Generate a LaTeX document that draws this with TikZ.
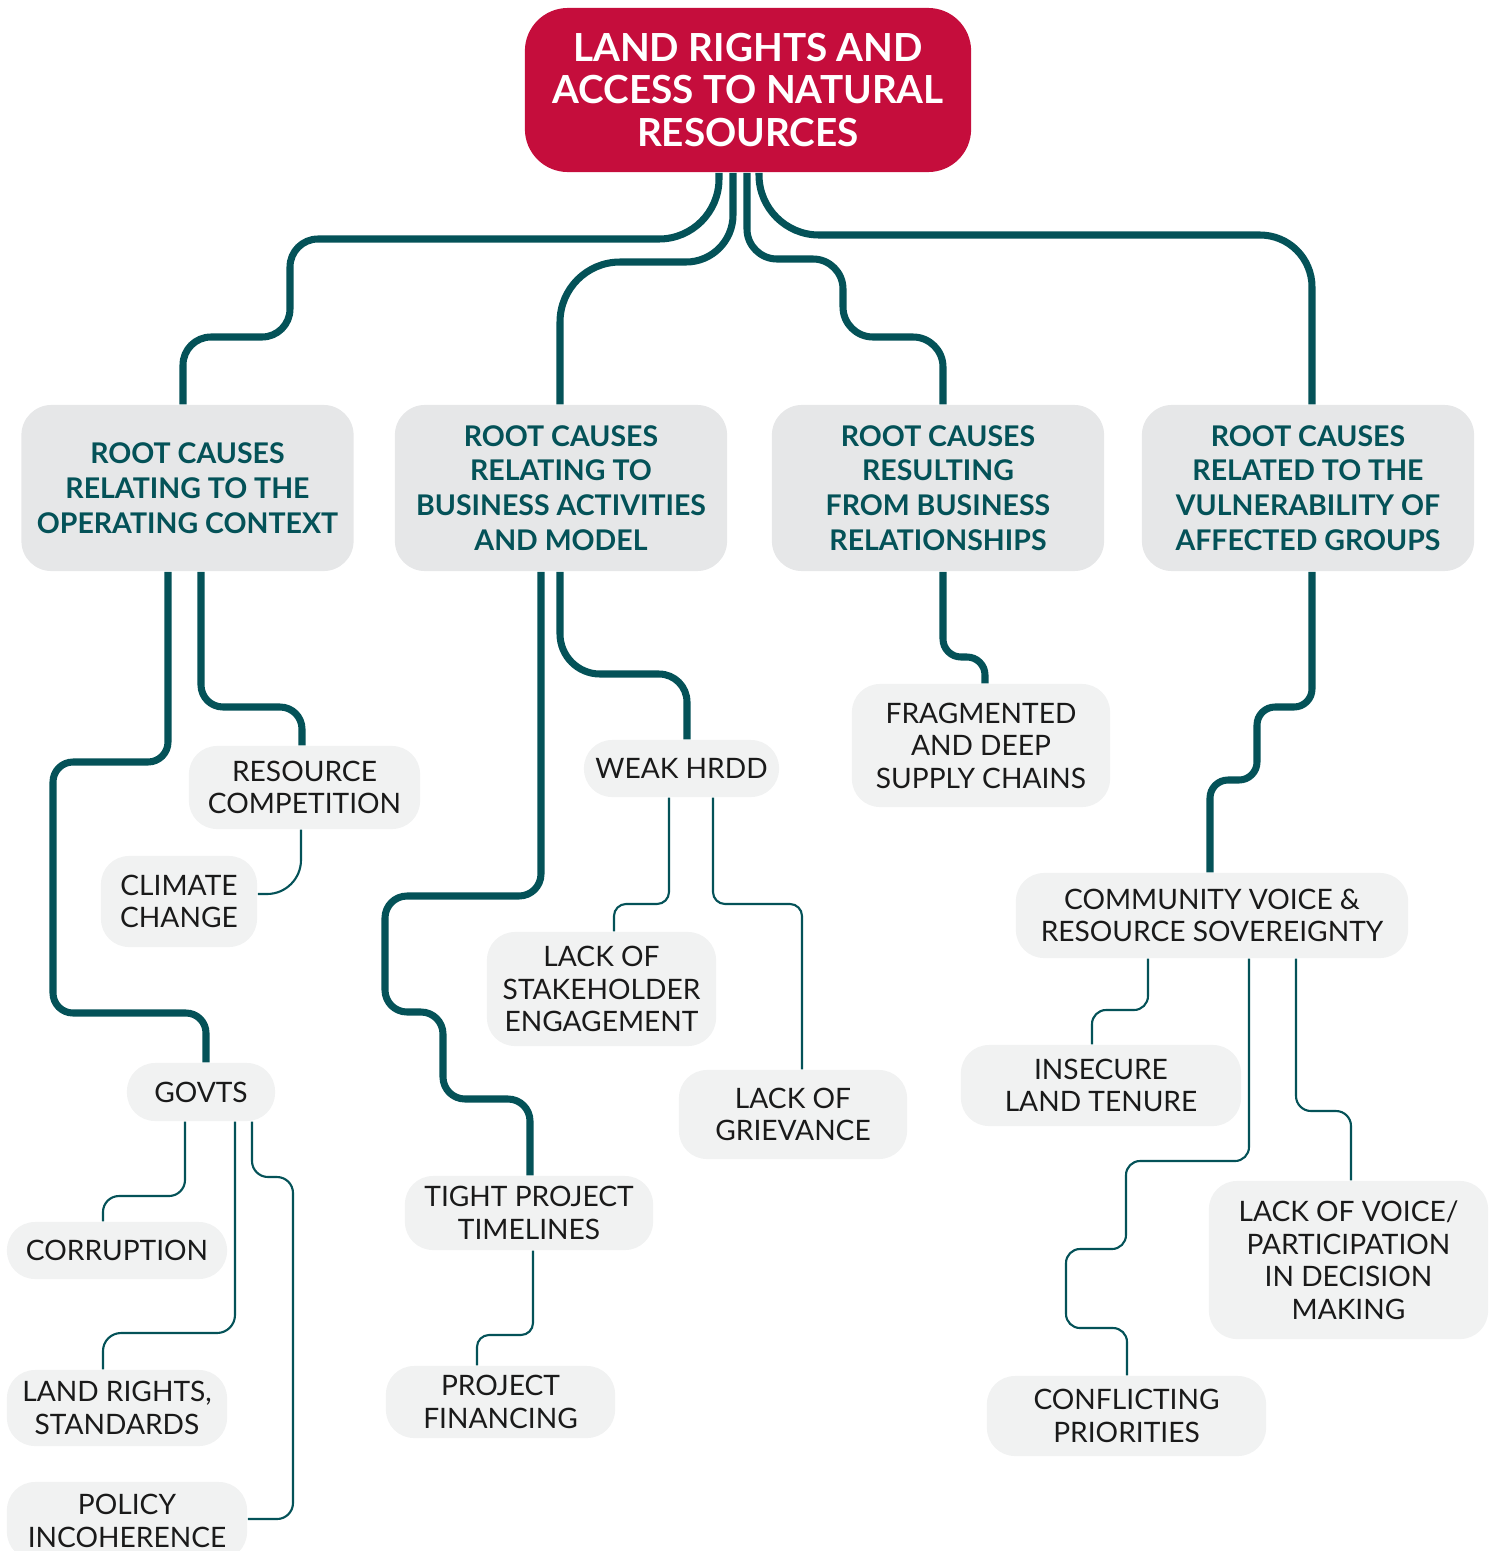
\documentclass[tikz,border=0pt]{standalone}
\usepackage{fontspec}
\setmainfont{Lato}

\definecolor{landred}{RGB}{197,13,60}
\definecolor{deepteal}{RGB}{4,82,88}
\definecolor{causegray}{RGB}{230,231,232}
\definecolor{leafgray}{RGB}{241,242,242}
\definecolor{leaftext}{RGB}{26,26,26}

\begin{document}
\begin{tikzpicture}[x=0.01cm,y=-0.01cm]
    \tikzstyle{rootnode}=[fill=landred,text=white,rounded corners=4.3mm,align=center,inner sep=0pt,minimum width=4.46cm,minimum height=1.64cm,font=\fontsize{11}{12.2}\selectfont\bfseries]
    \tikzstyle{cause}=[fill=causegray,text=deepteal,rounded corners=3mm,align=center,inner sep=0pt,minimum width=3.32cm,minimum height=1.66cm,font=\fontsize{8.1}{9.9}\selectfont\bfseries]
    \tikzstyle{leaf}=[fill=leafgray,text=leaftext,rounded corners=2.8mm,align=center,inner sep=0pt,font=\fontsize{8}{9.25}\selectfont]
    \tikzstyle{trunk}=[draw=deepteal,line width=2pt]
    \tikzstyle{twig}=[draw=deepteal,line width=0.6pt]

    \useasboundingbox (0,0) rectangle (1497,1551);

    \node[rootnode] (root) at (748,90) {LAND RIGHTS AND\\ACCESS TO NATURAL\\RESOURCES};

    \foreach \name/\x/\txt in {context/187.5/{ROOT CAUSES\\RELATING TO THE\\OPERATING CONTEXT},
                               business/561/{ROOT CAUSES\\RELATING TO\\BUSINESS ACTIVITIES\\AND MODEL},
                               relations/938/{ROOT CAUSES\\RESULTING\\FROM BUSINESS\\RELATIONSHIPS},
                               vulnerable/1308/{ROOT CAUSES\\RELATED TO THE\\VULNERABILITY OF\\AFFECTED GROUPS}}
        \node[cause] (\name) at (\x,488) {\txt};

    \foreach \name/\x/\y/\w/\h/\txt in {competition/304.5/787.5/23.1/8.3/{RESOURCE\\COMPETITION},
                                        climate/179/901.5/15.6/9.1/{CLIMATE\\CHANGE},
                                        govts/201/1092/14.8/5.8/{GOVTS},
                                        corruption/117/1250.5/22/5.7/{CORRUPTION},
                                        landrights/117/1408/22/7.6/{LAND RIGHTS,\\STANDARDS},
                                        policy/127/1521/24/7.8/{POLICY\\INCOHERENCE},
                                        weakhrdd/681.5/768.5/19.5/5.7/{WEAK HRDD},
                                        stakeholder/601.5/989/22.9/11.4/{LACK OF\\STAKEHOLDER\\ENGAGEMENT},
                                        grievance/793/1114.5/22.8/8.9/{LACK OF\\GRIEVANCE},
                                        timelines/529/1213/24.8/7.4/{TIGHT PROJECT\\TIMELINES},
                                        financing/500.5/1402/22.9/7.2/{PROJECT\\FINANCING},
                                        supply/981/745.5/25.8/12.3/{FRAGMENTED\\AND DEEP\\SUPPLY CHAINS},
                                        community/1212/915.5/39.2/8.5/{COMMUNITY VOICE \&\\RESOURCE SOVEREIGNTY},
                                        tenure/1101/1085.5/28/8.1/{INSECURE\\LAND TENURE},
                                        voice/1348.5/1260/27.9/15.8/{LACK OF VOICE/\\PARTICIPATION\\IN DECISION\\MAKING},
                                        priorities/1126.5/1416/27.9/8/{CONFLICTING\\PRIORITIES}}
        \node[leaf,minimum width=\w mm,minimum height=\h mm] (\name) at (\x,\y) {\txt};

    % root to the four groups of causes
    \draw[trunk] (root.south -| 719,0) [rounded corners=6mm] -- (719,239) [rounded corners=2.8mm] -- (290,239) -- (290,337) -- (183,337) -- (context.north -| 183,0);
    \draw[trunk] (root.south -| 733,0) [rounded corners=4.7mm] -- (733,262) [rounded corners=6mm] -- (560,262) -- (business.north -| 560,0);
    \draw[trunk,rounded corners=3mm] (root.south -| 747,0) -- (747,259) -- (843,259) -- (843,337) -- (943,337) -- (relations.north -| 943,0);
    \draw[trunk] (root.south -| 759,0) [rounded corners=6mm] -- (759,235) [rounded corners=5.2mm] -- (1312,235) -- (vulnerable.north -| 1312,0);

    \draw[trunk,rounded corners=2mm] (context.south -| 168,0) -- (168,762) -- (53,762) -- (53,1013) -- (206,1013) -- (govts.north -| 206,0);
    \draw[trunk,rounded corners=2.2mm] (context.south -| 201,0) -- (201,707) -- (302,707) -- (competition.north -| 302,0);
    \draw[twig,rounded corners=3.4mm] (competition.south -| 301,0) -- (301,894) -- (climate.east |- 0,894);
    \draw[twig,rounded corners=1.6mm] (govts.south -| 185,0) -- (185,1196) -- (103,1196) -- (corruption.north -| 103,0);
    \draw[twig,rounded corners=1.8mm] (govts.south -| 235,0) -- (235,1333) -- (103,1333) -- (landrights.north -| 103,0);
    \draw[twig,rounded corners=1.6mm] (govts.south -| 252,0) -- (252,1177) -- (293,1177) -- (293,1519) -- (policy.east |- 0,1519);

    \draw[trunk,rounded corners=2.2mm] (business.south -| 541,0) -- (541,896) -- (385,896) -- (385,1012) -- (443,1012) -- (443,1099) -- (530,1099) -- (timelines.north -| 530,0);
    \draw[trunk] (business.south -| 560,0) [rounded corners=4mm] -- (560,674) [rounded corners=2.8mm] -- (687,674) -- (weakhrdd.north -| 687,0);
    \draw[twig,rounded corners=1.2mm] (weakhrdd.south -| 669,0) -- (669,904) -- (614,904) -- (stakeholder.north -| 614,0);
    \draw[twig,rounded corners=1.2mm] (weakhrdd.south -| 713,0) -- (713,904) -- (802,904) -- (grievance.north -| 802,0);
    \draw[twig,rounded corners=1.2mm] (timelines.south -| 533,0) -- (533,1335) -- (477,1335) -- (financing.north -| 477,0);

    \draw[trunk,rounded corners=1.8mm] (relations.south -| 943,0) -- (943,657) -- (985,657) -- (supply.north -| 985,0);

    \draw[trunk,rounded corners=1.8mm] (vulnerable.south -| 1312,0) -- (1312,707) -- (1257,707) -- (1257,780) -- (1210,780) -- (community.north -| 1210,0);
    \draw[twig,rounded corners=1.4mm] (community.south -| 1148,0) -- (1148,1010) -- (1092,1010) -- (tenure.north -| 1092,0);
    \draw[twig,rounded corners=1.4mm] (community.south -| 1249,0) -- (1249,1161) -- (1126,1161) -- (1126,1249) -- (1066,1249) -- (1066,1328) -- (1127,1328) -- (priorities.north -| 1127,0);
    \draw[twig,rounded corners=1.5mm] (community.south -| 1296,0) -- (1296,1111) -- (1351,1111) -- (voice.north -| 1351,0);
\end{tikzpicture}
\end{document}
